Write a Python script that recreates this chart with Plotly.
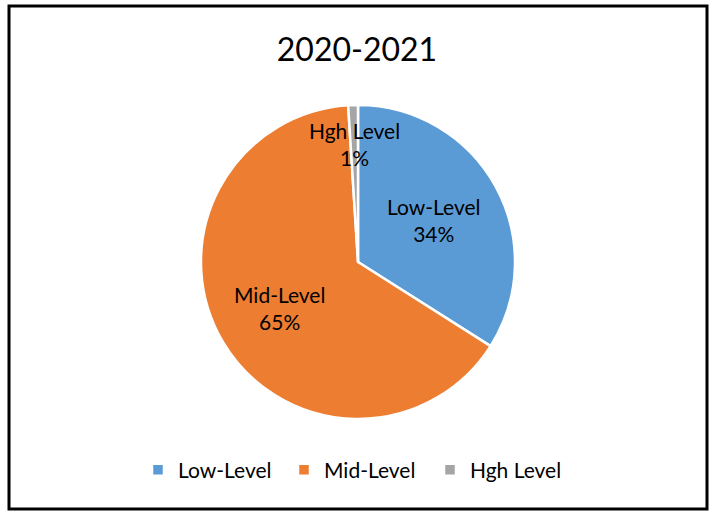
import math
import plotly.graph_objects as go

labels = ["Low-Level", "Mid-Level", "Hgh Level"]
values = [34, 65, 1]
colors = ["#5B9BD5", "#ED7D31", "#A5A5A5"]
title_text = "2020-2021"

W, H = 714, 512
cx, cy, r = 358, 262, 157
FONT = "Lato, Open Sans, sans-serif"

fig = go.Figure()
fig.add_trace(go.Pie(
    labels=labels, values=values, sort=False, direction="clockwise", rotation=0,
    marker=dict(colors=colors, line=dict(color="white", width=2.5)),
    textinfo="none", hoverinfo="label+percent",
    domain=dict(x=[(cx - r) / W, (cx + r) / W], y=[1 - (cy + r) / H, 1 - (cy - r) / H]),
))

# data labels at slice mid-angles
rad_frac = [0.55, 0.58, 0.75]
total = sum(values)
cum = 0
for lab, v, rf in zip(labels, values, rad_frac):
    mid = (cum + v / 2) / total * 2 * math.pi
    cum += v
    px = cx + rf * r * math.sin(mid)
    py = cy - rf * r * math.cos(mid)
    fig.add_annotation(x=px / W, y=1 - py / H, xref="paper", yref="paper",
                       text=f"{lab}<br>{round(v / total * 100)}%", showarrow=False,
                       font=dict(family=FONT, size=21, color="#000000"),
                       xanchor="center", yanchor="middle")

fig.update_layout(
    width=W, height=H,
    margin=dict(l=0, r=0, t=0, b=0),
    paper_bgcolor="white", plot_bgcolor="white",
    title=dict(text=title_text, x=0.5, xanchor="center", y=1 - 50 / H, yanchor="middle",
               font=dict(family=FONT, size=32, color="#000000")),
    legend=dict(orientation="h", x=0.5, xanchor="center", y=1 - 470 / H, yanchor="middle",
                font=dict(family=FONT, size=21, color="#000000"), traceorder="normal",
                itemwidth=30, entrywidth=101, entrywidthmode="pixels"),
    shapes=[dict(type="rect", xref="paper", yref="paper",
                 x0=9 / W, x1=707 / W, y0=1 - 509 / H, y1=1 - 6 / H,
                 line=dict(color="#000000", width=3))],
)

fig.write_html("out.html", config={"displayModeBar": False},
               post_script="document.body.style.margin='0';")
